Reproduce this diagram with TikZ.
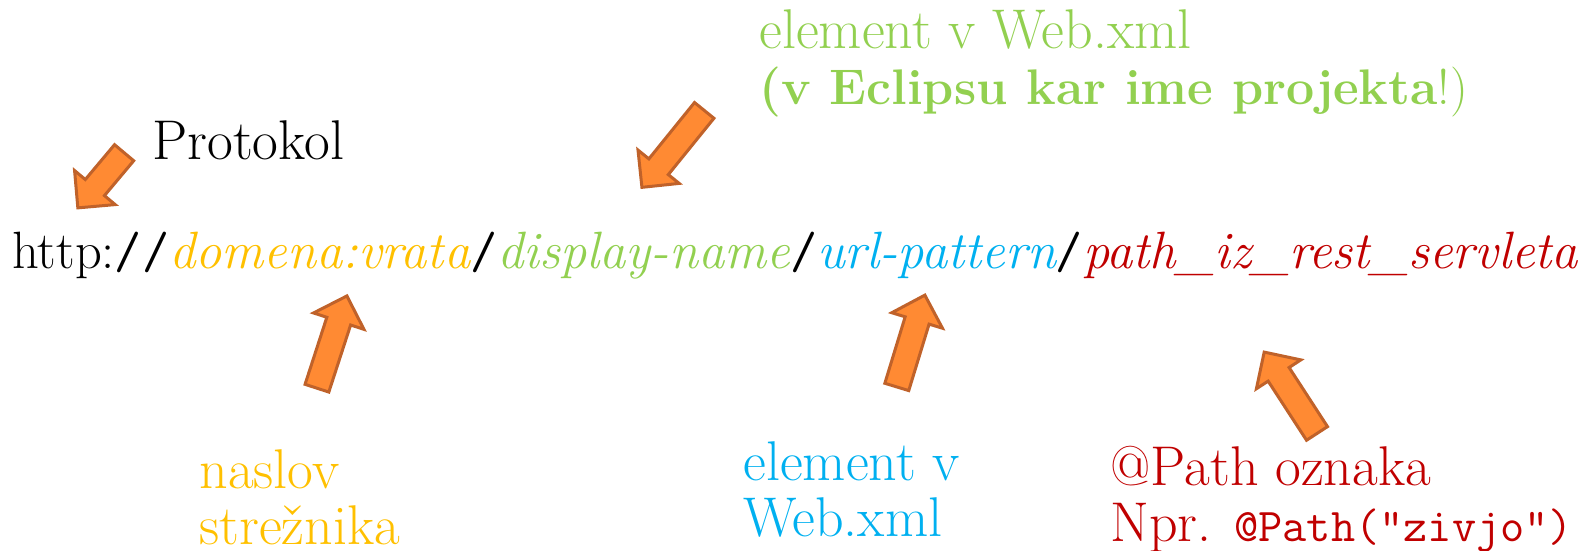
\documentclass[tikz,border=0pt]{standalone}
\usepackage{fontspec}
\usetikzlibrary{shapes.arrows}
\definecolor{rumena}{HTML}{FFC000}
\definecolor{zelena}{HTML}{92D050}
\definecolor{modra}{HTML}{00B0F0}
\definecolor{rdeca}{HTML}{C00000}
\definecolor{puscpol}{HTML}{FF8A33}
\definecolor{puscrob}{HTML}{C0622A}
\newcommand{\crta}{{\ttfamily/}}
\tikzset{
	napis/.style={anchor=base west, inner sep=0pt, align=left, font=\fontsize{56}{56}\selectfont},
	puscica/.style={single arrow, draw=puscrob, fill=puscpol, line width=3pt, inner sep=11pt,
		single arrow head extend=14pt, single arrow tip angle=90, minimum height=#1}
}
\begin{document}
\begin{tikzpicture}[x=1pt,y=-1pt,thick]
		\useasboundingbox (0,0) rectangle (1586,550);
		% Naslov URL in oznake (spodnja vrstica je bazna)
			\node[napis, font=\fontsize{52.5}{56}\selectfont] (url) at (12,268) {http:\crta\crta{\itshape\color{rumena}domena:vrata}\crta{\itshape\color{zelena}display-name}\crta{\itshape\color{modra}url-pattern}\crta{\itshape\color{rdeca}path\_iz\_rest\_servleta}};
			\node[napis] (protokol) at (152,159) {Protokol};
			\node[napis, text=zelena] (projekt) at (759,104) {element v Web.xml\\{\fontsize{50}{56}\selectfont\textbf{(v Eclipsu kar ime projekta}!)}};
			\node[napis, text=rumena] (streznik) at (199,544) {naslov\\stre\v{z}nika};
			\node[napis, text=modra] (webxml) at (743,536) {element v\\Web.xml};
			\node[napis, text=rdeca] (oznaka) at (1110,541) {@Path oznaka\\Npr. {\ttfamily\fontsize{47}{56}\selectfont @Path("zivjo")}};

		% Puscice
			\node[puscica=72, rotate=230] (p1) at (105,175.5) {};
			\node[puscica=99, rotate=231] (p2) at (677,144) {};
			\node[puscica=97, rotate=72] (p3) at (330,348) {};
			\node[puscica=96, rotate=73] (p4) at (909,347) {};
			\node[puscica=97, rotate=123] (p5) at (1294,398) {};
	\end{tikzpicture}
\end{document}
